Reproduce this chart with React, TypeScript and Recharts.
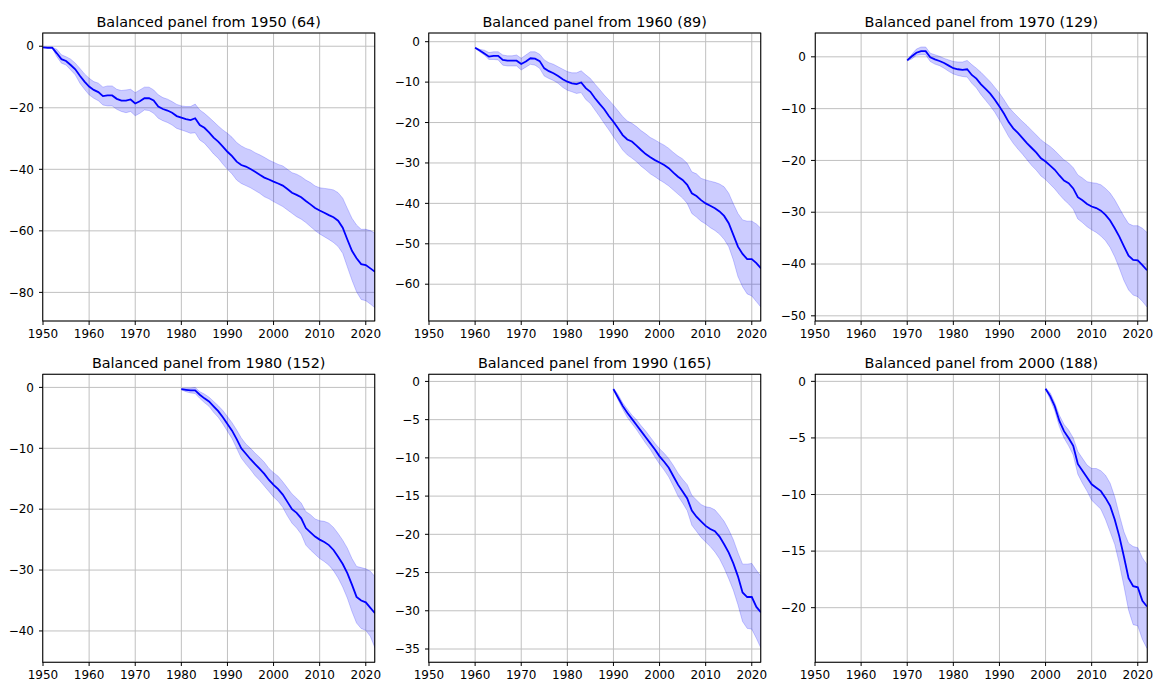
import React from "react";
import { ComposedChart, Line, Area, XAxis, YAxis, CartesianGrid } from "recharts";

// ---------- data ----------
const xTicks = [1950, 1960, 1970, 1980, 1990, 2000, 2010, 2020];

const titles = [
  "Balanced panel from 1950 (64)",
  "Balanced panel from 1960 (89)",
  "Balanced panel from 1970 (129)",
  "Balanced panel from 1980 (152)",
  "Balanced panel from 1990 (165)",
  "Balanced panel from 2000 (188)",
];

const startYears = [1950, 1960, 1970, 1980, 1990, 2000];

const mean1950 = [
  -0.4, -0.5, -0.5, -2.3, -4.2, -4.8, -6.1, -7.5, -9.6, -11.5,
  -13.1, -14.2, -14.9, -16.2, -16.0, -16.0, -17.1, -17.7, -17.7, -17.3,
  -18.6, -17.9, -16.9, -16.9, -17.6, -19.6, -20.4, -20.9, -21.6, -22.7,
  -23.2, -23.7, -24.0, -23.4, -25.6, -26.5, -28.0, -29.7, -31.0, -32.6,
  -34.3, -35.7, -37.5, -38.6, -39.1, -39.9, -40.8, -41.8, -42.7, -43.3,
  -44.0, -44.6, -45.3, -46.4, -47.6, -48.3, -49.1, -50.3, -51.4, -52.6,
  -53.4, -54.1, -54.9, -55.6, -56.7, -59.0, -62.8, -66.5, -68.9, -70.8,
  -71.1, -72.2, -73.3,
];
const upper1950 = [
  -0.3, -0.4, -0.4, -1.0, -2.8, -3.4, -4.2, -5.5, -7.2, -9.0,
  -10.4, -11.5, -12.0, -13.3, -12.9, -12.9, -14.0, -14.4, -14.2, -14.0,
  -15.1, -14.2, -13.3, -13.3, -14.2, -15.8, -16.7, -17.2, -18.0, -18.9,
  -19.4, -19.6, -19.6, -18.8, -20.7, -21.8, -23.1, -24.5, -25.9, -27.2,
  -28.3, -29.6, -31.3, -32.4, -33.2, -33.7, -34.6, -35.3, -36.1, -37.0,
  -37.7, -38.4, -38.9, -40.0, -41.1, -41.6, -42.4, -43.5, -44.3, -45.4,
  -46.0, -46.2, -46.4, -46.7, -47.6, -49.4, -52.7, -55.9, -58.1, -59.5,
  -59.5, -59.9, -60.8,
];
const lower1950 = [
  -0.5, -0.6, -0.6, -3.4, -5.5, -6.1, -7.7, -9.3, -12.0, -14.0,
  -15.8, -16.9, -17.7, -19.1, -19.4, -19.4, -20.5, -21.2, -21.6, -21.2,
  -22.6, -21.8, -20.7, -20.9, -21.8, -23.4, -24.2, -24.8, -25.6, -26.7,
  -27.2, -27.7, -28.3, -28.1, -30.5, -31.5, -33.2, -35.0, -36.4, -38.3,
  -40.0, -41.5, -43.5, -44.6, -45.3, -46.0, -46.9, -47.8, -48.9, -49.6,
  -50.5, -51.3, -52.1, -53.2, -54.3, -55.4, -56.2, -57.3, -58.6, -59.9,
  -61.0, -61.9, -62.8, -63.8, -65.1, -67.3, -71.7, -76.0, -79.8, -82.3,
  -82.7, -83.8, -85.0,
];

const mean1960 = [
  -1.5, -2.2, -2.9, -3.7, -3.5, -3.5, -4.5, -4.7, -4.7, -4.7,
  -5.5, -4.9, -4.1, -4.2, -4.8, -6.6, -7.3, -7.8, -8.5, -9.3,
  -9.9, -10.3, -10.5, -10.1, -11.5, -12.4, -14.0, -15.4, -16.7, -18.4,
  -19.8, -21.4, -23.1, -24.2, -24.7, -25.7, -26.8, -27.8, -28.6, -29.3,
  -29.9, -30.5, -31.3, -32.4, -33.4, -34.2, -35.4, -37.5, -38.2, -39.2,
  -40.0, -40.6, -41.2, -42.0, -43.1, -44.9, -47.8, -50.7, -52.5, -53.8,
  -53.8, -54.8, -56.1,
];
const upper1960 = [
  -1.4, -1.9, -2.1, -2.7, -2.5, -2.5, -3.3, -3.5, -3.5, -3.3,
  -4.1, -3.3, -2.5, -2.5, -3.1, -4.5, -5.2, -5.6, -6.2, -6.8,
  -7.4, -7.7, -7.7, -7.2, -8.2, -9.1, -10.5, -11.8, -13.2, -14.4,
  -15.7, -17.1, -18.5, -19.6, -20.2, -21.0, -22.0, -22.8, -23.7, -24.3,
  -25.0, -25.6, -26.4, -27.4, -28.3, -29.0, -30.1, -32.2, -32.7, -33.8,
  -34.2, -34.5, -34.8, -35.2, -35.9, -37.5, -40.1, -42.5, -44.1, -44.4,
  -44.4, -45.1, -46.2,
];
const lower1960 = [
  -1.6, -2.5, -3.3, -4.4, -4.4, -4.5, -5.8, -6.0, -6.0, -6.0,
  -7.0, -6.3, -5.6, -5.8, -6.6, -8.5, -9.1, -9.6, -10.3, -11.3,
  -12.0, -12.4, -12.8, -12.6, -14.3, -15.3, -16.9, -18.5, -20.2, -21.8,
  -23.5, -25.1, -26.8, -28.0, -28.8, -29.7, -30.8, -31.7, -32.7, -33.4,
  -34.2, -34.9, -35.7, -36.7, -37.7, -38.7, -40.0, -42.5, -43.4, -44.4,
  -45.1, -46.0, -46.7, -47.6, -48.9, -50.7, -54.0, -58.1, -60.6, -62.4,
  -62.9, -64.3, -65.7,
];

const mean1970 = [
  -0.7, 0.1, 0.8, 1.1, 1.1, -0.1, -0.5, -0.8, -1.2, -1.7,
  -2.2, -2.4, -2.5, -2.4, -3.5, -4.2, -5.3, -6.2, -7.1, -8.3,
  -9.6, -11.0, -12.6, -13.8, -14.7, -15.7, -16.7, -17.6, -18.5, -19.6,
  -20.2, -21.0, -21.8, -22.9, -23.9, -24.4, -25.4, -27.1, -27.7, -28.4,
  -28.9, -29.2, -29.7, -30.5, -31.6, -33.1, -34.7, -36.6, -38.4, -39.2,
  -39.3, -40.2, -41.2,
];
const upper1970 = [
  -0.6, 0.5, 1.5, 1.9, 1.9, 0.7, 0.4, 0.1, -0.3, -0.6,
  -0.9, -1.0, -1.0, -0.7, -1.5, -2.2, -3.0, -3.9, -4.8, -5.9,
  -7.0, -8.3, -9.7, -10.7, -11.6, -12.5, -13.3, -14.2, -15.1, -16.0,
  -16.7, -17.3, -18.1, -19.0, -19.9, -20.5, -21.4, -22.8, -23.4, -24.1,
  -24.3, -24.4, -24.7, -25.4, -26.3, -27.6, -29.2, -30.8, -32.2, -32.6,
  -32.6, -33.1, -33.9,
];
const lower1970 = [
  -0.8, -0.4, 0.3, 0.4, 0.4, -0.9, -1.4, -1.7, -2.2, -2.8,
  -3.3, -3.6, -3.8, -3.9, -5.1, -6.0, -7.3, -8.4, -9.5, -10.7,
  -12.2, -13.8, -15.4, -16.7, -17.8, -18.8, -19.9, -21.0, -21.9, -23.0,
  -23.7, -24.6, -25.5, -26.6, -27.6, -28.4, -29.4, -31.3, -32.0, -32.8,
  -33.4, -33.9, -34.6, -35.5, -36.8, -38.6, -40.8, -43.2, -45.0, -46.0,
  -46.3, -47.2, -48.3,
];

const mean1980 = [
  -0.3, -0.4, -0.5, -0.5, -1.2, -1.8, -2.3, -3.1, -3.9, -4.9,
  -6.0, -7.1, -8.5, -10.0, -10.9, -11.8, -12.6, -13.4, -14.2, -15.2,
  -16.0, -16.7, -17.6, -18.8, -20.0, -20.6, -21.5, -23.1, -23.8, -24.5,
  -25.0, -25.4, -25.9, -26.7, -27.8, -29.0, -30.5, -32.4, -34.4, -35.0,
  -35.3, -36.2, -37.1,
];
const upper1980 = [
  -0.2, -0.1, -0.1, 0.0, -0.7, -1.1, -1.6, -2.3, -3.0, -3.8,
  -4.8, -5.8, -7.0, -8.3, -9.3, -10.0, -10.8, -11.5, -12.3, -13.3,
  -14.0, -14.6, -15.5, -16.5, -17.5, -18.2, -19.0, -20.4, -20.9, -21.6,
  -21.9, -22.0, -22.3, -23.0, -24.0, -25.1, -26.4, -28.1, -29.4, -29.6,
  -29.8, -30.2, -31.1,
];
const lower1980 = [
  -0.4, -0.7, -0.9, -1.0, -1.8, -2.5, -3.1, -4.1, -4.9, -6.0,
  -7.2, -8.4, -10.0, -11.6, -12.6, -13.5, -14.5, -15.3, -16.2, -17.1,
  -18.0, -18.7, -19.7, -21.1, -22.3, -23.1, -24.1, -25.9, -26.7, -27.4,
  -28.1, -28.6, -29.2, -30.1, -31.3, -32.8, -34.6, -36.8, -38.7, -39.6,
  -39.9, -40.9, -42.8,
];

const mean1990 = [
  -1.0, -2.1, -3.2, -4.1, -4.9, -5.7, -6.5, -7.3, -8.1, -8.9,
  -9.8, -10.5, -11.3, -12.4, -13.5, -14.4, -15.3, -16.9, -17.7, -18.3,
  -18.9, -19.3, -19.6, -20.3, -21.3, -22.4, -23.8, -25.5, -27.6, -28.2,
  -28.2, -29.5, -30.2,
];
const upper1990 = [
  -0.9, -1.7, -2.8, -3.6, -4.4, -5.0, -5.8, -6.5, -7.3, -8.1,
  -8.8, -9.4, -10.1, -11.0, -12.0, -12.8, -13.5, -14.9, -15.5, -16.1,
  -16.4, -16.5, -16.8, -17.5, -18.3, -19.4, -20.7, -22.4, -23.9, -23.9,
  -23.8, -24.7, -25.5,
];
const lower1990 = [
  -1.1, -2.4, -3.6, -4.7, -5.5, -6.3, -7.2, -8.1, -8.9, -9.9,
  -10.8, -11.6, -12.5, -13.7, -15.0, -15.9, -16.9, -18.8, -19.6, -20.4,
  -21.0, -21.6, -22.3, -23.2, -24.4, -25.8, -27.3, -29.2, -31.4, -32.3,
  -32.4, -33.6, -34.9,
];

const mean2000 = [
  -0.65, -1.3, -2.2, -3.5, -4.4, -5.0, -5.7, -7.3, -7.9, -8.5,
  -9.1, -9.4, -9.7, -10.3, -11.0, -12.2, -13.7, -15.5, -17.4, -18.1,
  -18.2, -19.4, -19.9,
];
const upper2000 = [
  -0.6, -1.0, -1.9, -3.0, -3.8, -4.3, -5.0, -6.2, -6.8, -7.4,
  -7.7, -7.7, -7.9, -8.3, -9.0, -10.2, -11.8, -13.3, -14.3, -14.6,
  -14.7, -15.6, -16.2,
];
const lower2000 = [
  -0.7, -1.6, -2.6, -4.0, -5.0, -5.7, -6.5, -8.2, -9.0, -9.7,
  -10.5, -10.9, -11.3, -12.2, -13.3, -14.4, -16.1, -18.1, -20.2, -21.5,
  -21.6, -22.8, -23.6,
];

const yTicks1950 = [0, -20, -40, -60, -80];
const yTicks1960 = [0, -10, -20, -30, -40, -50, -60];
const yTicks1970 = [0, -10, -20, -30, -40, -50];
const yTicks1980 = [0, -10, -20, -30, -40];
const yTicks1990 = [0, -5, -10, -15, -20, -25, -30, -35];
const yTicks2000 = [0, -5, -10, -15, -20];

const yDomains: [number, number][] = [
  [-89.3, 4.3],
  [-69.1, 2.15],
  [-51.0, 4.6],
  [-45.1, 2.2],
  [-36.7, 0.97],
  [-24.8, 0.65],
];

// ---------- layout ----------
const PLOT_W = 332;
const PLOT_H = 288;
const Y_W = 55;
const M_TOP = 10;
const M_RIGHT = 10;
const X_H = 30;
const plotLefts = [42.7, 428.7, 815.3];
const plotTops = [33, 374.3];

const FONT = "'DejaVu Sans', sans-serif";

const means = [mean1950, mean1960, mean1970, mean1980, mean1990, mean2000];
const uppers = [upper1950, upper1960, upper1970, upper1980, upper1990, upper2000];
const lowers = [lower1950, lower1960, lower1970, lower1980, lower1990, lower2000];
const yTicksAll = [yTicks1950, yTicks1960, yTicks1970, yTicks1980, yTicks1990, yTicks2000];

function buildRows(i: number) {
  return means[i].map((m, k) => ({
    year: startYears[i] + k,
    mean: m,
    band: [lowers[i][k], uppers[i][k]],
  }));
}

const fmt = (v: number) => (v < 0 ? "\u2212" + Math.abs(v) : String(v));

function Panel({ i }: { i: number }) {
  const col = i % 3;
  const row = Math.floor(i / 3);
  const left = plotLefts[col] - Y_W;
  const top = plotTops[row] - M_TOP;
  const data = buildRows(i);
  const tickStyle = { fontFamily: FONT, fontSize: 12, fill: "#000" };
  return (
    <div style={{ position: "absolute", left, top }}>
      <ComposedChart
        width={Y_W + PLOT_W + M_RIGHT}
        height={M_TOP + PLOT_H + X_H}
        data={data}
        margin={{ top: M_TOP, right: M_RIGHT, bottom: 0, left: 0 }}
      >
        <CartesianGrid stroke="#c0c0c0" strokeWidth={1} />
        <XAxis
          dataKey="year"
          type="number"
          domain={[1950, 2022]}
          ticks={xTicks}
          interval={0}
          allowDataOverflow
          height={X_H}
          tick={tickStyle}
          tickSize={4}
          tickMargin={4}
          axisLine={false}
          tickLine={{ stroke: "#000" }}
        />
        <YAxis
          type="number"
          domain={yDomains[i]}
          ticks={yTicksAll[i]}
          interval={0}
          allowDataOverflow
          width={Y_W}
          tick={tickStyle}
          tickSize={4}
          tickMargin={5}
          axisLine={false}
          tickLine={{ stroke: "#000" }}
          tickFormatter={fmt}
        />
        <Area
          dataKey="band"
          type="linear"
          fill="#0000ff"
          fillOpacity={0.2}
          stroke="#0000ff"
          strokeOpacity={0.2}
          strokeWidth={1}
          isAnimationActive={false}
          dot={false}
          activeDot={false}
        />
        <Line
          dataKey="mean"
          type="linear"
          stroke="#0000ff"
          strokeWidth={1.8}
          dot={false}
          activeDot={false}
          isAnimationActive={false}
        />
      </ComposedChart>
    </div>
  );
}

export default function App() {
  return (
    <div
      style={{
        position: "absolute",
        left: 0,
        top: 0,
        width: 1155,
        height: 683,
        background: "#fff",
        overflow: "hidden",
      }}
    >
      {titles.map((_, i) => (
        <Panel key={i} i={i} />
      ))}
      <svg
        width={1155}
        height={683}
        style={{ position: "absolute", left: 0, top: 0, pointerEvents: "none" }}
      >
        {titles.map((t, i) => {
          const col = i % 3;
          const row = Math.floor(i / 3);
          const x = plotLefts[col];
          const y = plotTops[row];
          return (
            <g key={i}>
              <rect
                x={x}
                y={y}
                width={PLOT_W}
                height={PLOT_H}
                fill="none"
                stroke="#000"
                strokeWidth={1}
              />
              <text
                x={x + PLOT_W / 2}
                y={y - 6.5}
                textAnchor="middle"
                fontFamily={FONT}
                fontSize={14.4}
                fill="#000"
              >
                {t}
              </text>
            </g>
          );
        })}
      </svg>
    </div>
  );
}
